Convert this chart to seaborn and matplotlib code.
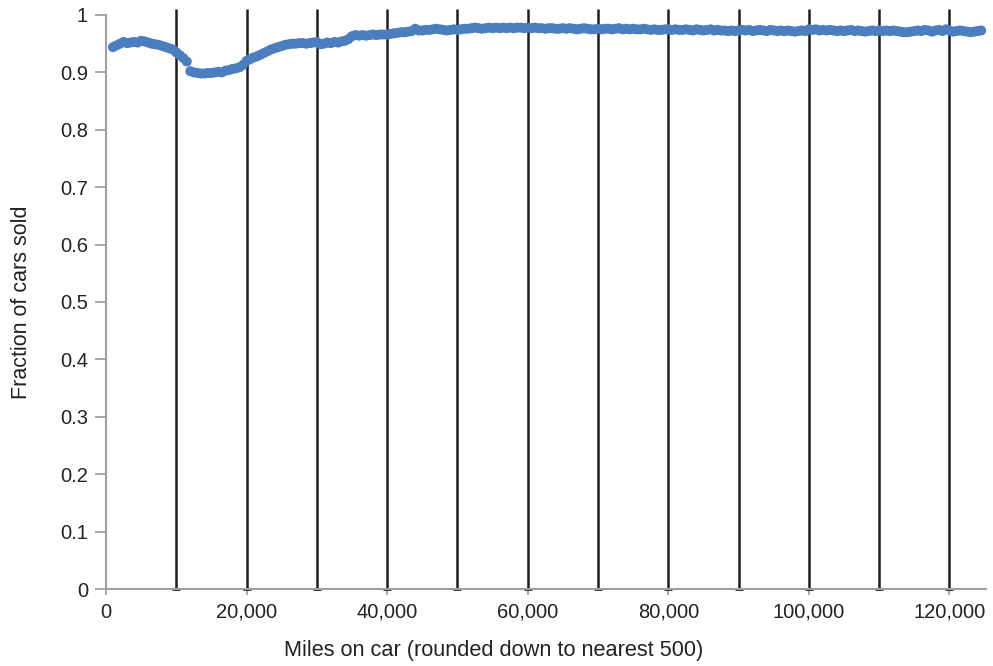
import matplotlib
matplotlib.use("Agg")
import matplotlib.pyplot as plt
import numpy as np
import pandas as pd
import seaborn as sns
from matplotlib.ticker import FuncFormatter, MultipleLocator

# Miles rounded down to nearest 500, from 1,000 to 124,500
miles = list(range(1000, 125000, 500))

# Fraction of cars sold (one row per 10,000 miles)
fraction_sold = (
    [0.944, 0.947, 0.950, 0.953, 0.951, 0.952, 0.953, 0.952, 0.955, 0.954,
     0.952, 0.950, 0.949, 0.948, 0.946, 0.944, 0.942, 0.940]
    + [0.935, 0.930, 0.925, 0.919, 0.902, 0.900, 0.899, 0.898, 0.898, 0.899,
       0.899, 0.900, 0.901, 0.900, 0.903, 0.904, 0.906, 0.907, 0.909, 0.913]
    + [0.920, 0.923, 0.926, 0.928, 0.931, 0.934, 0.937, 0.940, 0.942, 0.944,
       0.946, 0.948, 0.949, 0.950, 0.950, 0.951, 0.951, 0.950, 0.951, 0.952]
    + [0.953, 0.949, 0.950, 0.952, 0.951, 0.953, 0.952, 0.954, 0.955, 0.958,
       0.963, 0.965, 0.964, 0.965, 0.964, 0.965, 0.966, 0.965, 0.966, 0.966]
    + [0.966, 0.967, 0.968, 0.969, 0.970, 0.970, 0.971, 0.972, 0.976, 0.973,
       0.973, 0.974, 0.974, 0.975, 0.976, 0.975, 0.974, 0.973, 0.974, 0.975]
    + [0.974, 0.975, 0.976, 0.976, 0.977, 0.978, 0.977, 0.976, 0.977, 0.978,
       0.977, 0.978, 0.977, 0.978, 0.977, 0.978, 0.977, 0.978, 0.978, 0.977]
    + [0.978, 0.977, 0.978, 0.977, 0.977, 0.976, 0.977, 0.977, 0.976, 0.976,
       0.977, 0.976, 0.977, 0.976, 0.975, 0.976, 0.977, 0.976, 0.975, 0.975]
    + [0.976, 0.975, 0.976, 0.976, 0.975, 0.976, 0.977, 0.975, 0.976, 0.975,
       0.976, 0.975, 0.975, 0.976, 0.975, 0.974, 0.975, 0.974, 0.974, 0.975]
    + [0.975, 0.974, 0.975, 0.974, 0.974, 0.975, 0.974, 0.973, 0.975, 0.974,
       0.973, 0.974, 0.975, 0.973, 0.974, 0.973, 0.973, 0.972, 0.973, 0.972]
    + [0.973, 0.974, 0.973, 0.974, 0.972, 0.973, 0.974, 0.973, 0.972, 0.974,
       0.973, 0.972, 0.973, 0.972, 0.973, 0.972, 0.971, 0.972, 0.973, 0.972]
    + [0.975, 0.974, 0.975, 0.973, 0.974, 0.973, 0.974, 0.973, 0.972, 0.973,
       0.972, 0.973, 0.974, 0.972, 0.973, 0.972, 0.971, 0.972, 0.973, 0.972]
    + [0.973, 0.972, 0.973, 0.972, 0.973, 0.972, 0.971, 0.970, 0.970, 0.971,
       0.972, 0.973, 0.972, 0.974, 0.973, 0.971, 0.973, 0.974, 0.972, 0.975]
    + [0.973, 0.971, 0.972, 0.973, 0.972, 0.971, 0.970, 0.971, 0.972, 0.973]
)

# vertical reference lines every 10,000 miles
marker_miles = list(range(10000, 130000, 10000))

df = pd.DataFrame({"miles": miles, "fraction": fraction_sold})

sns.set_theme(style="white")
plt.rcParams["font.family"] = ["Liberation Sans", "DejaVu Sans"]

fig = plt.figure(figsize=(9.93, 6.66), dpi=100)
ax = fig.add_axes([0.1067, 0.1156, 0.8863, 0.8619])

ax.vlines(marker_miles, 0, 1.01, color="#1e1e1e", linewidth=1.8, clip_on=False, zorder=1)
ax.plot(marker_miles, [0] * len(marker_miles), linestyle="none", marker="_",
        markersize=6, markeredgewidth=2, color="#1e1e1e", clip_on=False, zorder=1)

sns.scatterplot(data=df, x="miles", y="fraction", ax=ax, color="#4a7ebf",
                s=52, edgecolor="none", zorder=3, clip_on=False)

ax.set_xlim(0, 125200)
ax.set_ylim(0, 1)
ax.xaxis.set_major_locator(MultipleLocator(20000))
ax.yaxis.set_major_locator(MultipleLocator(0.1))
ax.xaxis.set_major_formatter(FuncFormatter(lambda v, p: f"{int(v):,}"))
ax.yaxis.set_major_formatter(FuncFormatter(lambda v, p: "0" if v == 0 else ("1" if abs(v - 1) < 1e-9 else f"{v:.1f}")))

for side in ["top", "right"]:
    ax.spines[side].set_visible(False)
for side in ["left", "bottom"]:
    ax.spines[side].set_color("#a0a0a0")
    ax.spines[side].set_linewidth(1.5)

ax.tick_params(axis="y", direction="out", length=8, width=1.3, color="#a0a0a0",
               labelsize=14.5, labelcolor="#222222", pad=5, left=True)
ax.tick_params(axis="x", direction="out", length=4, width=1.3, color="#a0a0a0",
               labelsize=14.5, labelcolor="#222222", pad=6, bottom=True)

ax.set_xlabel("Miles on car (rounded down to nearest 500)", fontsize=15.7, color="#222222",
              va="center")
# the x title sits centred on the figure, not on the axes
ax.xaxis.set_label_coords(0.497, 0.024, transform=fig.transFigure)
ax.set_ylabel("Fraction of cars sold", fontsize=15.5, color="#222222", labelpad=20)

fig.savefig("out.png", dpi=100)
